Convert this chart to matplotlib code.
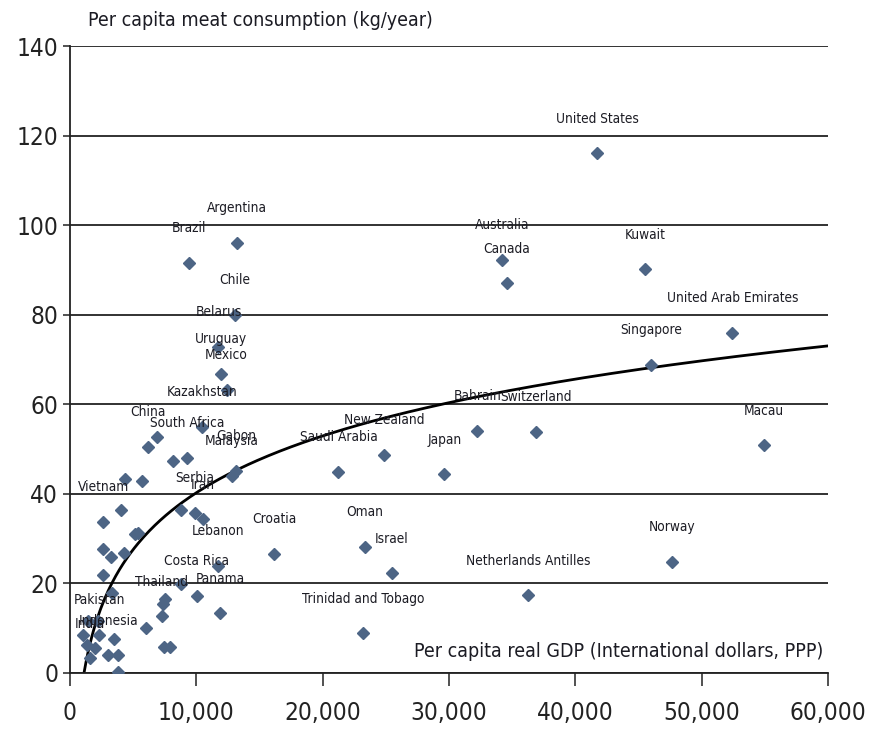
import numpy as np
import matplotlib
matplotlib.use("Agg")
import matplotlib.pyplot as plt

plt.rcParams['font.family'] = ['DejaVu Sans']
plt.rcParams['font.stretch'] = 'condensed'

# ---- data ----
names = ["United States", "Argentina", "Brazil", "Chile", "Belarus", "Uruguay", "Mexico",
         "Kazakhstan", "China", "South Africa", "Gabon", "Malaysia", "Vietnam", "Serbia",
         "Iran", "Lebanon", "Costa Rica", "Thailand", "Panama", "Pakistan", "India",
         "Indonesia", "Croatia", "Saudi Arabia", "New Zealand", "Japan", "Bahrain",
         "Switzerland", "Oman", "Israel", "Trinidad and Tobago", "Netherlands Antilles",
         "Australia", "Canada", "Kuwait", "United Arab Emirates", "Singapore", "Macau", "Norway"]
gdp = [41750, 13200, 9450, 13060, 11750, 11960, 12400,
       10450, 6200, 9290, 13140, 12830, 2640, 9900,
       10500, 11740, 10030, 7260, 11880, 2320, 1580,
       3030, 16150, 21250, 24890, 29640, 32250,
       36900, 23360, 25470, 23230, 36290,
       34230, 34580, 45550, 52440, 45980, 54900, 47640]
meat = [116.0, 96.1, 91.6, 80.0, 72.8, 66.8, 63.3,
        55.0, 50.5, 48.1, 45.2, 44.0, 33.8, 35.8,
        34.3, 23.9, 17.2, 12.7, 13.3, 8.5, 3.3,
        4.0, 26.6, 44.9, 48.7, 44.4, 54.1,
        53.9, 28.2, 22.3, 8.9, 17.4,
        92.3, 87.0, 90.1, 76.0, 68.8, 50.9, 24.8]

other_gdp = [6910, 8130, 4350, 5720, 8800, 4040, 5150, 5350, 2590, 3220, 4280,
             2620, 3300, 8800, 7550, 7400, 6000, 1450, 2240, 1050, 3480, 1320,
             1980, 3800, 3830, 7480, 7900]
other_meat = [52.6, 47.4, 43.3, 42.9, 36.5, 36.4, 31.0, 31.3, 27.6, 25.8, 26.9,
              21.8, 17.8, 19.9, 16.5, 15.3, 10.0, 11.6, 11.5, 8.4, 7.6, 6.3,
              5.5, 4.0, 0.2, 5.7, 5.7]

# logarithmic trend: meat = a*ln(gdp) + b
trend_a = 18.3
trend_b = -128.3

x_ticks = [0, 10000, 20000, 30000, 40000, 50000, 60000]
x_tick_labels = ["0", "10,000", "20,000", "30,000", "40,000", "50,000", "60,000"]
y_ticks = [0, 20, 40, 60, 80, 100, 120, 140]

# ---- figure ----
fig = plt.figure(figsize=(8.79, 7.31), dpi=100)
ax = fig.add_axes([70/879, 1-673/731, 758/879, 627/731])

marker_color = "#4d6585"
text_color = "#1c1c24"

for y in y_ticks:
    ax.axhline(y, color="#222222", lw=1.3, zorder=1)

tx = np.linspace(np.exp(-trend_b/trend_a), 60000, 400)
ax.plot(tx, trend_a*np.log(tx) + trend_b, color="black", lw=2.0, zorder=2)

ax.plot(other_gdp, other_meat, ls="none", marker="D", ms=6.2, color=marker_color,
        mec=marker_color, zorder=3)
ax.plot(gdp, meat, ls="none", marker="D", ms=6.2, color=marker_color,
        mec=marker_color, zorder=3)

label_dy = 7.7
for n, x, y in zip(names, gdp, meat):
    ax.text(x, y + label_dy, n, ha="center", va="center", fontsize=9.8,
            color=text_color, zorder=4)

ax.set_xlim(0, 60000)
ax.set_ylim(0, 140)
ax.set_xticks(x_ticks)
ax.set_xticklabels(x_tick_labels)
ax.set_yticks(y_ticks)

for s in ["top", "right"]:
    ax.spines[s].set_visible(False)
ax.spines["left"].set_color("#222222")
ax.spines["bottom"].set_color("#222222")
ax.spines["left"].set_linewidth(1.3)
ax.spines["bottom"].set_linewidth(1.3)

ax.tick_params(axis="x", direction="out", length=9.5, width=1.1, pad=11,
               labelsize=17.5, colors="#222222")
ax.tick_params(axis="y", direction="out", length=5, width=1.1, pad=3.5,
               labelsize=17.5, colors="#222222")

fig.text(88/879, 1-20/731, "Per capita meat consumption (kg/year)", ha="left",
         va="center", fontsize=14, color=text_color)
ax.text(0.9935, 0.035, "Per capita real GDP (International dollars, PPP)",
        transform=ax.transAxes, ha="right", va="center", fontsize=14, color=text_color)

fig.savefig("out.png", dpi=100)
